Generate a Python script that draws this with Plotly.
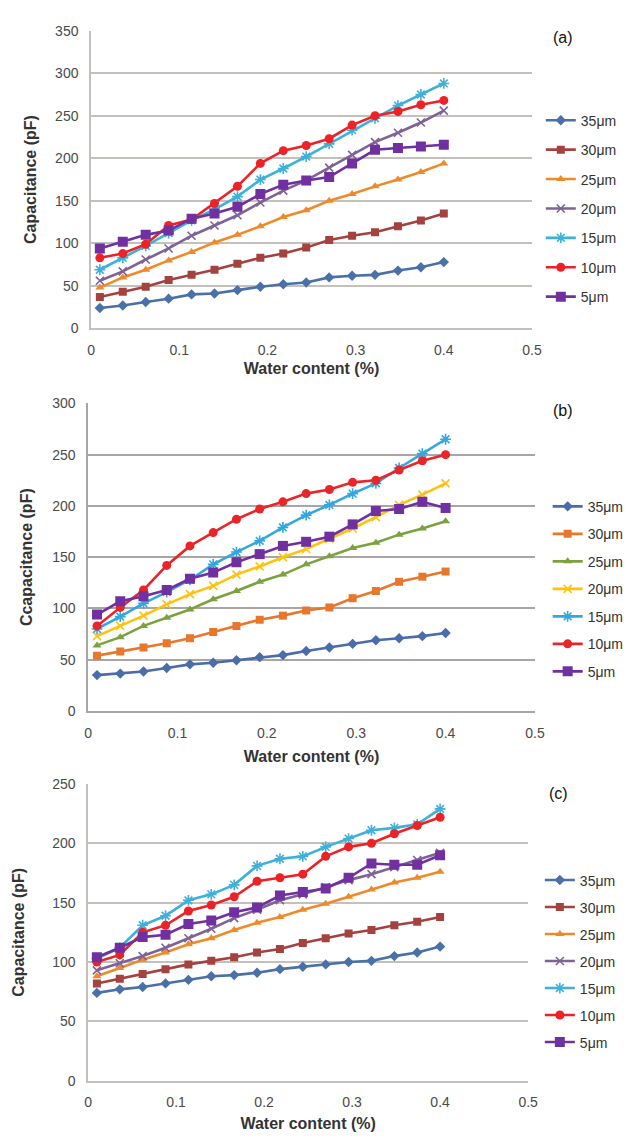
import plotly.graph_objects as go
from plotly.subplots import make_subplots

# ---------------- data ----------------
water_content = [0.01, 0.036, 0.062, 0.088, 0.114, 0.14, 0.166, 0.192,
                 0.218, 0.244, 0.27, 0.296, 0.322, 0.348, 0.374, 0.4]
thickness_labels = ["35μm", "30μm", "25μm", "20μm", "15μm", "10μm", "5μm"]

# panel (a)
a_35um = [24, 27, 31, 35, 40, 41, 45, 49, 52, 54, 60, 62, 63, 68, 72, 78]
a_30um = [37, 43, 49, 57, 63, 69, 76, 83, 88, 95, 104, 109, 113, 120, 127, 135]
a_25um = [48, 60, 69, 80, 90, 101, 110, 120, 131, 139, 150, 158, 167, 175, 184, 194]
a_20um = [56, 67, 81, 94, 109, 121, 133, 148, 162, 174, 189, 204, 219, 230, 242, 256]
a_15um = [69, 83, 97, 112, 127, 140, 155, 175, 188, 202, 217, 233, 247, 262, 275, 288]
a_10um = [83, 88, 99, 121, 128, 147, 167, 194, 209, 215, 223, 239, 250, 255, 263, 268]
a_5um = [94, 102, 110, 115, 129, 135, 143, 158, 169, 174, 178, 194, 210, 212, 214, 216]

# panel (b)
b_35um = [35, 36.5, 38.5, 42, 45.5, 47, 49.5, 52.5, 54.5, 58.5, 62, 65.5, 69, 71, 73, 76]
b_30um = [54, 58, 62, 66, 71, 77, 83, 89, 93, 98, 101, 110, 117, 126, 131, 136]
b_25um = [64, 72, 83, 91, 99, 109, 117, 126, 133, 143, 151, 159, 164, 172, 178, 185]
b_20um = [73, 83, 93, 104, 114, 122, 133, 141, 150, 158, 168, 178, 189, 201, 211, 222]
b_15um = [80, 92, 105, 116, 128, 143, 155, 166, 179, 191, 201, 212, 222, 237, 251, 265]
b_10um = [83, 101, 118, 142, 161, 174, 187, 197, 204, 212, 216, 223, 225, 235, 244, 250]
b_5um = [94, 107, 112, 118, 129, 135, 145, 153, 161, 165, 170, 182, 195, 197, 204, 198]

# panel (c)
c_35um = [74, 77, 79, 82, 85, 88, 89, 91, 94, 96, 98, 100, 101, 105, 108, 113]
c_30um = [82, 86, 90, 94, 98, 101, 104, 108, 111, 116, 120, 124, 127, 131, 134, 138]
c_25um = [88, 95, 102, 108, 115, 120, 127, 133, 138, 144, 149, 155, 161, 167, 171, 176]
c_20um = [93, 99, 105, 112, 120, 128, 137, 144, 152, 157, 163, 169, 174, 180, 186, 192]
c_15um = [103, 112, 131, 139, 152, 157, 165, 181, 187, 189, 197, 204, 211, 213, 216, 229]
c_10um = [100, 106, 125, 131, 143, 148, 155, 168, 171, 174, 189, 197, 200, 208, 215, 222]
c_5um = [104, 112, 121, 123, 132, 135, 142, 146, 156, 159, 162, 171, 183, 182, 182, 190]

panel_labels = ["(a)", "(b)", "(c)"]
y_titles = ["Capacitance (pF)", "Ccapacitance (pF)", "Capacitance (pF)"]
y_max = [350, 300, 250]

# ---------------- styles ----------------
colors_ac = ["#4A70A8", "#A3423F", "#EE8A2A", "#7F6296", "#3FB0D8", "#EC2227", "#7030A0"]
colors_b = ["#4A6CAA", "#E8772E", "#7BA23F", "#FFC20E", "#33A7DE", "#E8262A", "#7030A0"]
symbols = ["diamond", "square", "triangle-up", "x-thin", "asterisk", "circle", "square"]
msizes = [8, 8, 8, 8, 9, 9, 10]

panels = [
    [a_35um, a_30um, a_25um, a_20um, a_15um, a_10um, a_5um],
    [b_35um, b_30um, b_25um, b_20um, b_15um, b_10um, b_5um],
    [c_35um, c_30um, c_25um, c_20um, c_15um, c_10um, c_5um],
]
panel_colors = [colors_ac, colors_b, colors_ac]

W, H = 631, 1141
# pixel geometry of the plot areas (left, right, top, bottom)
areas = [(89, 540, 23, 325), (86, 543, 401, 713), (86, 536, 787, 1088)]
legend_x = [549, 556, 548]
legend_center = [203.5, 589.5, 967]
legend_gap = [8.2, 6.3, 5.8]
label_pos = [(572, 30), (572, 408), (567, 797)]
grid_colors = ["#C4C0BC", "#A9A5A2", "#C4C0BC"]
ytitle_standoff = [15, 16, 24]
xtitle_standoff = [6, 11, 9]

FONT = "Arial, Liberation Sans, sans-serif"

fig = make_subplots(rows=3, cols=1)

legend_names = ["legend", "legend2", "legend3"]
for p, series_list in enumerate(panels):
    for k, ys in enumerate(series_list):
        col = panel_colors[p][k]
        sym = symbols[k]
        line_sym = sym in ("x-thin", "asterisk")
        marker = dict(symbol=sym, size=msizes[k], color=col,
                      line=dict(width=1.6 if line_sym else 0, color=col))
        fig.add_trace(go.Scatter(
            x=water_content, y=ys, mode="lines+markers",
            name=thickness_labels[k], legend=legend_names[p],
            legendgroup=f"p{p}_{k}",
            line=dict(color=col, width=2.6), marker=marker,
            showlegend=True,
        ), row=p + 1, col=1)

layout_updates = {}
for p in range(3):
    l, r, t, b = areas[p]
    sfx = "" if p == 0 else str(p + 1)
    layout_updates[f"xaxis{sfx}"] = dict(
        domain=[l / W, r / W], range=[0, 0.5], dtick=0.1, tick0=0,
        showgrid=False, zeroline=False, showline=True, linecolor=grid_colors[p],
        linewidth=1.5, ticks="", ticklabelstandoff=8,
        tickfont=dict(family=FONT, size=14, color="#4A4A4A"),
        title=dict(text="<b>Water content (%)</b>", standoff=xtitle_standoff[p],
                   font=dict(family=FONT, size=16, color="#333333")),
    )
    layout_updates[f"yaxis{sfx}"] = dict(
        domain=[1 - b / H, 1 - t / H], range=[0, y_max[p]], dtick=50, tick0=0,
        showgrid=True, gridcolor=grid_colors[p], gridwidth=1.5, zeroline=False,
        showline=True, linecolor=grid_colors[p], linewidth=1.5, ticks="",
        ticklabelstandoff=8,
        tickfont=dict(family=FONT, size=14, color="#4A4A4A"),
        title=dict(text=f"<b>{y_titles[p]}</b>", standoff=ytitle_standoff[p],
                   font=dict(family=FONT, size=16, color="#333333")),
    )
    layout_updates[legend_names[p]] = dict(
        x=legend_x[p] / W, y=1 - legend_center[p] / H, xanchor="left", yanchor="middle",
        bgcolor="rgba(0,0,0,0)", borderwidth=0,
        font=dict(family=FONT, size=14, color="#333333"),
        tracegroupgap=legend_gap[p], itemwidth=30,
    )

fig.update_layout(**layout_updates)

for p in range(3):
    x, y = label_pos[p]
    fig.add_annotation(text=panel_labels[p], x=x / W, y=1 - y / H, xref="paper", yref="paper",
                       showarrow=False, xanchor="center", yanchor="middle",
                       font=dict(family=FONT, size=16, color="#111111"))

fig.update_layout(
    width=W, height=H, margin=dict(l=0, r=0, t=0, b=0),
    paper_bgcolor="white", plot_bgcolor="white", showlegend=True,
)

fig.write_html("out.html", config={"displayModeBar": False},
               post_script="document.body.style.margin='0px';")
